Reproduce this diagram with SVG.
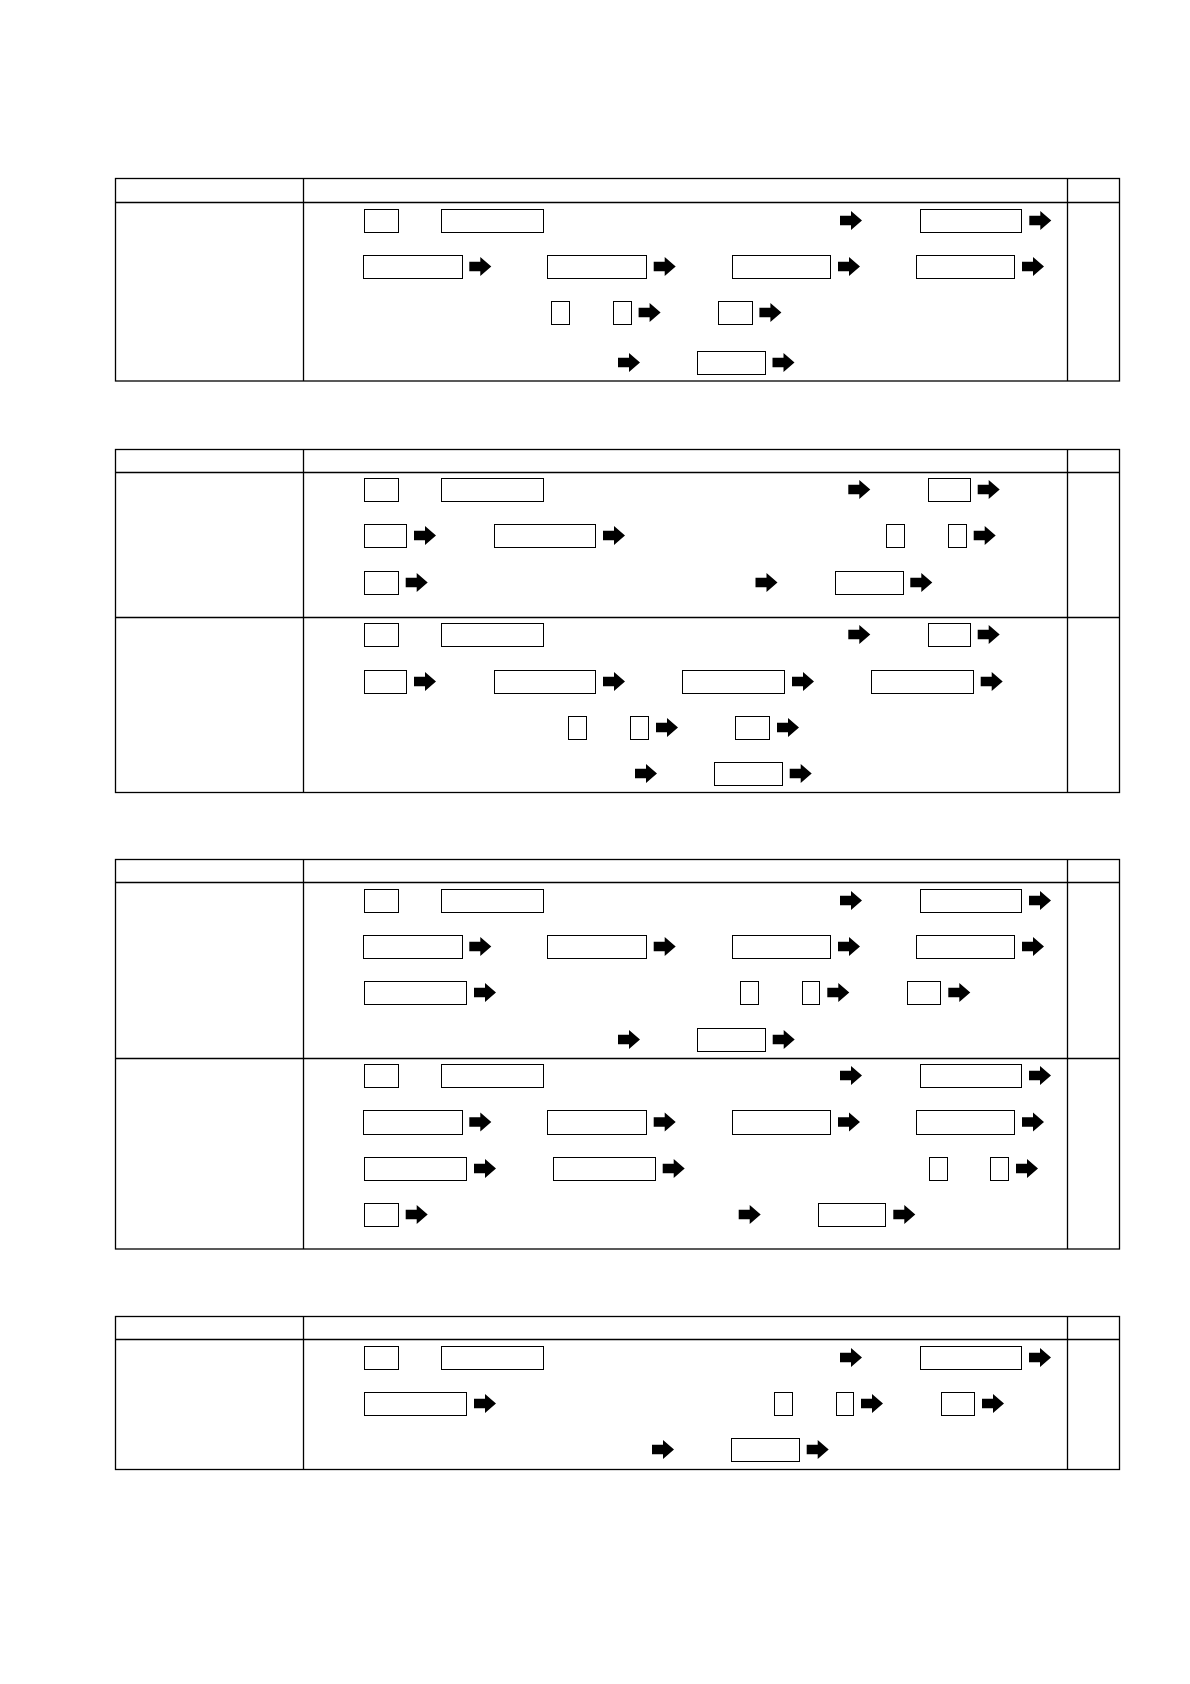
<svg xmlns="http://www.w3.org/2000/svg" xmlns:xlink="http://www.w3.org/1999/xlink" width="1190" height="1684" viewBox="0 0 1190 1684">
<style>
.tbl{fill:none;stroke:#000;stroke-width:1.3}
.box{fill:#fff;stroke:#000;stroke-width:1}
.arr{fill:#000}
</style>
<defs>
<path id="arrow" d="M0,-4.7 H11 V-9.5 L22,0 L11,9.5 V4.7 H0 Z"/>
</defs>
<rect width="1190" height="1684" fill="#fff"/>

<!-- Table 1 -->
<g id="table1" class="tbl">
<rect x="115.5" y="178.5" width="1004" height="202.5"/>
<line x1="115.5" y1="202.5" x2="1119.5" y2="202.5"/>
<line x1="303.5" y1="178.5" x2="303.5" y2="381"/>
<line x1="1067.5" y1="178.5" x2="1067.5" y2="381"/>
</g>
<g id="t1-r1-b1"><rect class="box" x="364.5" y="209.5" width="34" height="23"/></g>
<g id="t1-r1-b2"><rect class="box" x="441.5" y="209.5" width="102" height="23"/></g>
<g id="t1-r1-b3"><rect class="box" x="920.5" y="209.5" width="101" height="23"/></g>
<g id="t1-r2-b1"><rect class="box" x="363.5" y="255.5" width="99" height="23"/></g>
<g id="t1-r2-b2"><rect class="box" x="547.5" y="255.5" width="99" height="23"/></g>
<g id="t1-r2-b3"><rect class="box" x="732.5" y="255.5" width="98" height="23"/></g>
<g id="t1-r2-b4"><rect class="box" x="916.5" y="255.5" width="98" height="23"/></g>
<g id="t1-r3-b1"><rect class="box" x="551.5" y="301.5" width="18" height="23"/></g>
<g id="t1-r3-b2"><rect class="box" x="613.5" y="301.5" width="18" height="23"/></g>
<g id="t1-r3-b3"><rect class="box" x="718.5" y="301.5" width="34" height="23"/></g>
<g id="t1-r4-b1"><rect class="box" x="697.5" y="351.5" width="68" height="23"/></g>

<!-- Table 2 -->
<g id="table2" class="tbl">
<rect x="115.5" y="449.5" width="1004" height="343"/>
<line x1="115.5" y1="472.5" x2="1119.5" y2="472.5"/>
<line x1="115.5" y1="617.5" x2="1119.5" y2="617.5"/>
<line x1="303.5" y1="449.5" x2="303.5" y2="792.5"/>
<line x1="1067.5" y1="449.5" x2="1067.5" y2="792.5"/>
</g>
<g id="t2a-r1-b1"><rect class="box" x="364.5" y="478.5" width="34" height="23"/></g>
<g id="t2a-r1-b2"><rect class="box" x="441.5" y="478.5" width="102" height="23"/></g>
<g id="t2a-r1-b3"><rect class="box" x="928.5" y="478.5" width="42" height="23"/></g>
<g id="t2a-r2-b1"><rect class="box" x="364.5" y="524.5" width="42" height="23"/></g>
<g id="t2a-r2-b2"><rect class="box" x="494.5" y="524.5" width="101" height="23"/></g>
<g id="t2a-r2-b3"><rect class="box" x="886.5" y="524.5" width="18" height="23"/></g>
<g id="t2a-r2-b4"><rect class="box" x="948.5" y="524.5" width="18" height="23"/></g>
<g id="t2a-r3-b1"><rect class="box" x="364.5" y="571.5" width="34" height="23"/></g>
<g id="t2a-r3-b2"><rect class="box" x="835.5" y="571.5" width="68" height="23"/></g>
<g id="t2b-r1-b1"><rect class="box" x="364.5" y="623.5" width="34" height="23"/></g>
<g id="t2b-r1-b2"><rect class="box" x="441.5" y="623.5" width="102" height="23"/></g>
<g id="t2b-r1-b3"><rect class="box" x="928.5" y="623.5" width="42" height="23"/></g>
<g id="t2b-r2-b1"><rect class="box" x="364.5" y="670.5" width="42" height="23"/></g>
<g id="t2b-r2-b2"><rect class="box" x="494.5" y="670.5" width="101" height="23"/></g>
<g id="t2b-r2-b3"><rect class="box" x="682.5" y="670.5" width="102" height="23"/></g>
<g id="t2b-r2-b4"><rect class="box" x="871.5" y="670.5" width="102" height="23"/></g>
<g id="t2b-r3-b1"><rect class="box" x="568.5" y="716.5" width="18" height="23"/></g>
<g id="t2b-r3-b2"><rect class="box" x="630.5" y="716.5" width="18" height="23"/></g>
<g id="t2b-r3-b3"><rect class="box" x="735.5" y="716.5" width="34" height="23"/></g>
<g id="t2b-r4-b1"><rect class="box" x="714.5" y="762.5" width="68" height="23"/></g>

<!-- Table 3 -->
<g id="table3" class="tbl">
<rect x="115.5" y="859.5" width="1004" height="389.5"/>
<line x1="115.5" y1="882.5" x2="1119.5" y2="882.5"/>
<line x1="115.5" y1="1058.5" x2="1119.5" y2="1058.5"/>
<line x1="303.5" y1="859.5" x2="303.5" y2="1249"/>
<line x1="1067.5" y1="859.5" x2="1067.5" y2="1249"/>
</g>
<g id="t3a-r1-b1"><rect class="box" x="364.5" y="889.5" width="34" height="23"/></g>
<g id="t3a-r1-b2"><rect class="box" x="441.5" y="889.5" width="102" height="23"/></g>
<g id="t3a-r1-b3"><rect class="box" x="920.5" y="889.5" width="101" height="23"/></g>
<g id="t3a-r2-b1"><rect class="box" x="363.5" y="935.5" width="99" height="23"/></g>
<g id="t3a-r2-b2"><rect class="box" x="547.5" y="935.5" width="99" height="23"/></g>
<g id="t3a-r2-b3"><rect class="box" x="732.5" y="935.5" width="98" height="23"/></g>
<g id="t3a-r2-b4"><rect class="box" x="916.5" y="935.5" width="98" height="23"/></g>
<g id="t3a-r3-b1"><rect class="box" x="364.5" y="981.5" width="102" height="23"/></g>
<g id="t3a-r3-b2"><rect class="box" x="740.5" y="981.5" width="18" height="23"/></g>
<g id="t3a-r3-b3"><rect class="box" x="802.5" y="981.5" width="17" height="23"/></g>
<g id="t3a-r3-b4"><rect class="box" x="907.5" y="981.5" width="33" height="23"/></g>
<g id="t3a-r4-b1"><rect class="box" x="697.5" y="1028.5" width="68" height="23"/></g>
<g id="t3b-r1-b1"><rect class="box" x="364.5" y="1064.5" width="34" height="23"/></g>
<g id="t3b-r1-b2"><rect class="box" x="441.5" y="1064.5" width="102" height="23"/></g>
<g id="t3b-r1-b3"><rect class="box" x="920.5" y="1064.5" width="101" height="23"/></g>
<g id="t3b-r2-b1"><rect class="box" x="363.5" y="1110.5" width="99" height="24"/></g>
<g id="t3b-r2-b2"><rect class="box" x="547.5" y="1110.5" width="99" height="24"/></g>
<g id="t3b-r2-b3"><rect class="box" x="732.5" y="1110.5" width="98" height="24"/></g>
<g id="t3b-r2-b4"><rect class="box" x="916.5" y="1110.5" width="98" height="24"/></g>
<g id="t3b-r3-b1"><rect class="box" x="364.5" y="1157.5" width="102" height="23"/></g>
<g id="t3b-r3-b2"><rect class="box" x="553.5" y="1157.5" width="102" height="23"/></g>
<g id="t3b-r3-b3"><rect class="box" x="929.5" y="1157.5" width="18" height="23"/></g>
<g id="t3b-r3-b4"><rect class="box" x="990.5" y="1157.5" width="18" height="23"/></g>
<g id="t3b-r4-b1"><rect class="box" x="364.5" y="1203.5" width="34" height="23"/></g>
<g id="t3b-r4-b2"><rect class="box" x="818.5" y="1203.5" width="67" height="23"/></g>

<!-- Table 4 -->
<g id="table4" class="tbl">
<rect x="115.5" y="1316.5" width="1004" height="153"/>
<line x1="115.5" y1="1339.5" x2="1119.5" y2="1339.5"/>
<line x1="303.5" y1="1316.5" x2="303.5" y2="1469.5"/>
<line x1="1067.5" y1="1316.5" x2="1067.5" y2="1469.5"/>
</g>
<g id="t4-r1-b1"><rect class="box" x="364.5" y="1346.5" width="34" height="23"/></g>
<g id="t4-r1-b2"><rect class="box" x="441.5" y="1346.5" width="102" height="23"/></g>
<g id="t4-r1-b3"><rect class="box" x="920.5" y="1346.5" width="101" height="23"/></g>
<g id="t4-r2-b1"><rect class="box" x="364.5" y="1392.5" width="102" height="23"/></g>
<g id="t4-r2-b2"><rect class="box" x="774.5" y="1392.5" width="18" height="23"/></g>
<g id="t4-r2-b3"><rect class="box" x="836.5" y="1392.5" width="17" height="23"/></g>
<g id="t4-r2-b4"><rect class="box" x="941.5" y="1392.5" width="33" height="23"/></g>
<g id="t4-r3-b1"><rect class="box" x="731.5" y="1438.5" width="68" height="23"/></g>

<!-- Arrows -->
<g id="connectors" class="arr">
<use xlink:href="#arrow" x="840" y="220.5"/>
<use xlink:href="#arrow" x="1029.3" y="220.5"/>
<use xlink:href="#arrow" x="469.3" y="266.5"/>
<use xlink:href="#arrow" x="653.7" y="266.5"/>
<use xlink:href="#arrow" x="838" y="266.5"/>
<use xlink:href="#arrow" x="1022" y="266.5"/>
<use xlink:href="#arrow" x="638.6" y="312.5"/>
<use xlink:href="#arrow" x="759.4" y="312.5"/>
<use xlink:href="#arrow" x="618" y="362.5"/>
<use xlink:href="#arrow" x="772.5" y="362.5"/>

<use xlink:href="#arrow" x="848.3" y="489.5"/>
<use xlink:href="#arrow" x="977.7" y="489.5"/>
<use xlink:href="#arrow" x="414" y="535.5"/>
<use xlink:href="#arrow" x="603" y="535.5"/>
<use xlink:href="#arrow" x="973.7" y="535.5"/>
<use xlink:href="#arrow" x="405.7" y="582.5"/>
<use xlink:href="#arrow" x="755.5" y="582.5"/>
<use xlink:href="#arrow" x="910.3" y="582.5"/>
<use xlink:href="#arrow" x="848.3" y="634.5"/>
<use xlink:href="#arrow" x="977.7" y="634.5"/>
<use xlink:href="#arrow" x="414" y="681.5"/>
<use xlink:href="#arrow" x="603" y="681.5"/>
<use xlink:href="#arrow" x="792" y="681.5"/>
<use xlink:href="#arrow" x="980.7" y="681.5"/>
<use xlink:href="#arrow" x="656" y="727.5"/>
<use xlink:href="#arrow" x="777" y="727.5"/>
<use xlink:href="#arrow" x="635" y="773.5"/>
<use xlink:href="#arrow" x="789.7" y="773.5"/>

<use xlink:href="#arrow" x="840" y="900.5"/>
<use xlink:href="#arrow" x="1029" y="900.5"/>
<use xlink:href="#arrow" x="469.3" y="946.5"/>
<use xlink:href="#arrow" x="653.7" y="946.5"/>
<use xlink:href="#arrow" x="838" y="946.5"/>
<use xlink:href="#arrow" x="1022" y="946.5"/>
<use xlink:href="#arrow" x="474" y="992.5"/>
<use xlink:href="#arrow" x="827.3" y="992.5"/>
<use xlink:href="#arrow" x="948.3" y="992.5"/>
<use xlink:href="#arrow" x="618" y="1039.5"/>
<use xlink:href="#arrow" x="772.7" y="1039.5"/>
<use xlink:href="#arrow" x="840" y="1075.5"/>
<use xlink:href="#arrow" x="1029" y="1075.5"/>
<use xlink:href="#arrow" x="469.3" y="1122"/>
<use xlink:href="#arrow" x="653.7" y="1122"/>
<use xlink:href="#arrow" x="838" y="1122"/>
<use xlink:href="#arrow" x="1022" y="1122"/>
<use xlink:href="#arrow" x="474" y="1168.5"/>
<use xlink:href="#arrow" x="662.7" y="1168.5"/>
<use xlink:href="#arrow" x="1016" y="1168.5"/>
<use xlink:href="#arrow" x="405.7" y="1214.5"/>
<use xlink:href="#arrow" x="738.7" y="1214.5"/>
<use xlink:href="#arrow" x="893.3" y="1214.5"/>

<use xlink:href="#arrow" x="840" y="1357.5"/>
<use xlink:href="#arrow" x="1029" y="1357.5"/>
<use xlink:href="#arrow" x="474" y="1403.5"/>
<use xlink:href="#arrow" x="861" y="1403.5"/>
<use xlink:href="#arrow" x="982" y="1403.5"/>
<use xlink:href="#arrow" x="652" y="1449.5"/>
<use xlink:href="#arrow" x="806.7" y="1449.5"/>
</g>
</svg>
